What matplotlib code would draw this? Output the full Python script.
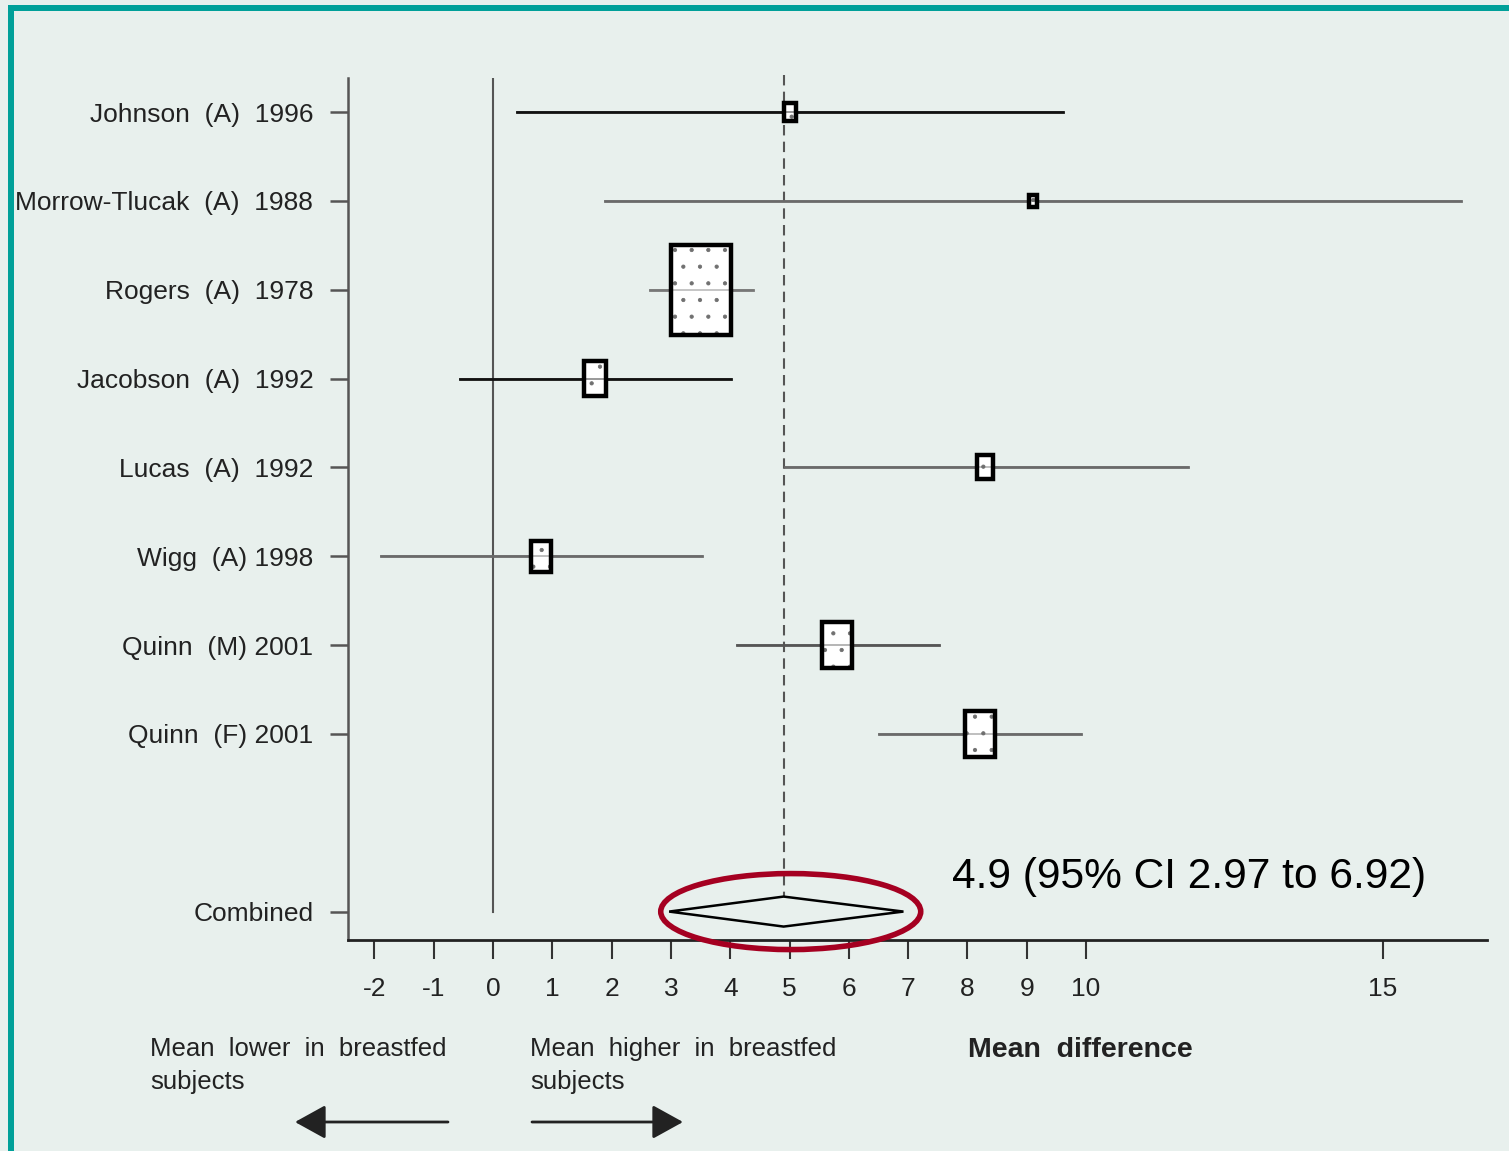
import numpy as np
import matplotlib.pyplot as plt
from matplotlib.patches import Rectangle, Polygon, Ellipse

plt.rcParams['font.family'] = ['Liberation Sans', 'DejaVu Sans']
plt.rcParams['hatch.linewidth'] = 0.6

# Studies, mean differences and 95% CIs
studies = ["Johnson  (A)  1996", "Morrow-Tlucak  (A)  1988", "Rogers  (A)  1978",
           "Jacobson  (A)  1992", "Lucas  (A)  1992", "Wigg  (A) 1998",
           "Quinn  (M) 2001", "Quinn  (F) 2001"]
means = [5.01, 9.11, 3.51, 1.72, 8.30, 0.81, 5.80, 8.21]
lower = [0.40, 1.89, 2.65, -0.56, 4.92, -1.89, 4.11, 6.51]
upper = [9.61, 16.32, 4.38, 4.01, 11.72, 3.52, 7.52, 9.92]
weights = [2.1, 0.9, 52.3, 7.5, 3.7, 6.2, 13.7, 13.7]  # percent

pooled = 4.9
pooled_lo = 2.97
pooled_hi = 6.92

xticks = [-2, -1, 0, 1, 2, 3, 4, 5, 6, 7, 8, 9, 10, 15]

bg = "#e8f0ed"
ci_colors = ["#111111", "#6a6a6a", "#777777", "#111111",
             "#6a6a6a", "#6a6a6a", "#555555", "#6a6a6a"]

W, H = 1509, 1151
fig = plt.figure(figsize=(W / 100, H / 100), dpi=100, facecolor=bg)
ax = fig.add_axes([348 / W, 1 - 940 / H, (1487 - 348) / W, (940 - 78) / H])
ax.set_facecolor(bg)

rows = list(range(len(studies)))
comb_row = len(studies) + 1

ax.set_xlim(-2.445, 16.76)
ax.set_ylim(9.32, -0.383)

# reference lines
ax.plot([0, 0], [-0.383, comb_row], color="#555555", lw=1.5, zorder=1)
ax.plot([pooled, pooled], [-0.42, comb_row - 0.17], color="#555555", lw=1.5,
        dashes=(5, 3), zorder=1, clip_on=False)

# per-study CIs and weighted boxes
px_x = (1487 - 348) / (16.76 + 2.445)   # pixels per x unit
px_y = (940 - 78) / (9.32 + 0.383)      # pixels per row
hmax = 90 / px_y
for r, m, lo, hi, w, c in zip(rows, means, lower, upper, weights, ci_colors):
    ax.plot([lo, hi], [r, r], color=c, lw=2, zorder=2)
    h = hmax * np.sqrt(w / max(weights))
    bw = h * px_y * 0.66 / px_x
    fill = Rectangle((m - bw / 2, r - h / 2), bw, h, facecolor="white",
                     edgecolor="#707070", hatch=".", lw=0, zorder=3)
    ax.add_patch(fill)
    ax.plot([lo, hi], [r, r], color=c, lw=1.2, alpha=0.5, zorder=3.5)
    ax.add_patch(Rectangle((m - bw / 2, r - h / 2), bw, h, facecolor="none",
                           edgecolor="black", lw=3.2, zorder=4))

# pooled diamond
dh = 15 / px_y
ax.add_patch(Polygon([(pooled_lo, comb_row), (pooled, comb_row - dh),
                      (pooled_hi, comb_row), (pooled, comb_row + dh)],
                     closed=True, facecolor="none", edgecolor="black", lw=1.8,
                     zorder=3))
ax.add_patch(Ellipse((5.02, comb_row), 260 / px_x, 76 / px_y, facecolor="none",
                     edgecolor="#a50021", lw=4, zorder=5, clip_on=False))
ax.text(952 / px_x - 2.445 - 348 / px_x, comb_row - 0.39,
        f"{pooled} (95% CI {pooled_lo} to {pooled_hi})",
        fontsize=30.6, color="black", va="center", ha="left")

# axes styling
for s in ["top", "right"]:
    ax.spines[s].set_visible(False)
ax.spines["left"].set_color("#555555")
ax.spines["left"].set_linewidth(1.8)
ax.spines["bottom"].set_color("#222222")
ax.spines["bottom"].set_linewidth(2)

ax.set_yticks(rows + [comb_row])
ax.set_yticklabels(studies + ["Combined"], fontsize=19, color="#222222")
ax.set_xticks(xticks)
ax.set_xticklabels([str(t) for t in xticks], fontsize=19, color="#222222")
ax.tick_params(axis="y", length=13, width=1.8, color="#555555", pad=12)
ax.tick_params(axis="x", length=14, width=1.5, color="#333333", pad=13)

# direction labels and arrows
fig.text(150 / W, 1 - 1037 / H, "Mean  lower  in  breastfed\nsubjects",
         fontsize=18.5, color="#222222", va="top", ha="left", linespacing=1.45)
fig.text(530 / W, 1 - 1037 / H, "Mean  higher  in  breastfed\nsubjects",
         fontsize=18.5, color="#222222", va="top", ha="left", linespacing=1.45)
fig.text(968 / W, 1 - 1050 / H, "Mean  difference", fontsize=20.5,
         fontweight="bold", color="#222222", va="center", ha="left")

arrow = dict(arrowstyle="-|>,head_length=1.9,head_width=1.05", color="#222222",
             lw=2, shrinkA=0, shrinkB=0)
ax.annotate("", xy=(295 / W, 1 - 1122 / H), xytext=(448 / W, 1 - 1122 / H),
            xycoords="figure fraction", textcoords="figure fraction",
            arrowprops=arrow)
ax.annotate("", xy=(683 / W, 1 - 1122 / H), xytext=(532 / W, 1 - 1122 / H),
            xycoords="figure fraction", textcoords="figure fraction",
            arrowprops=arrow)

# frame strips on the top and left edges
teal = "#00a099"
fig.patches.append(Rectangle((8 / W, 0), 6 / W, 1 - 5 / H, transform=fig.transFigure,
                             facecolor=teal, edgecolor="none"))
fig.patches.append(Rectangle((8 / W, 1 - 11 / H), 1 - 8 / W, 6 / H,
                             transform=fig.transFigure, facecolor=teal,
                             edgecolor="none"))

fig.savefig("out.png", dpi=100, facecolor=bg)
